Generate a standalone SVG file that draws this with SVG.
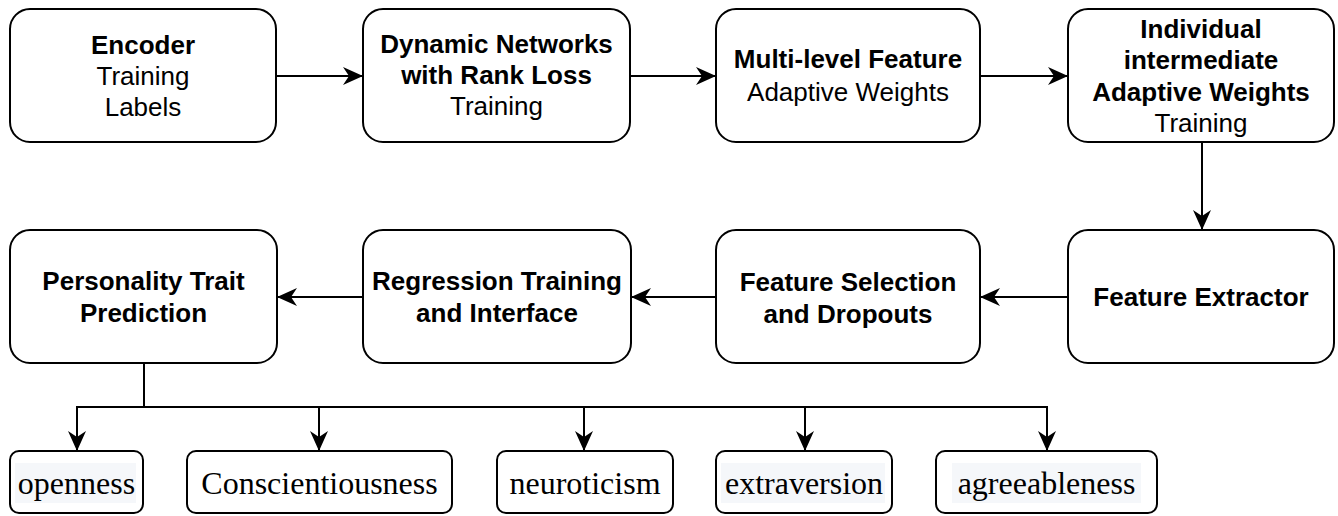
<svg xmlns="http://www.w3.org/2000/svg" width="1338" height="516" viewBox="0 0 1338 516">
  <defs>
    <style>
      .box { fill: #ffffff; stroke: #000000; stroke-width: 2; }
      .leaf { fill: #ffffff; stroke: #000000; stroke-width: 2; }
      .hl { fill: #f5f7fa; stroke: none; }
      .t { font-family: "Liberation Sans", Arial, sans-serif; font-size: 26px; fill: #000000; text-anchor: middle; }
      .b { font-weight: bold; }
      .s { font-family: "Liberation Serif", "Times New Roman", serif; font-size: 32px; fill: #000000; text-anchor: middle; }
      .edge { fill: none; stroke: #000000; stroke-width: 2; }
    </style>
    <marker id="arrow" markerUnits="userSpaceOnUse" markerWidth="22" markerHeight="22" refX="20" refY="10" orient="auto">
      <path d="M0,1 L20,10 L0,19 L6,10 Z" fill="#000000"/>
    </marker>
  </defs>

  <rect width="1338" height="516" fill="#ffffff"/>

  <!-- connectors -->
  <g id="connectors">
    <line class="edge" x1="276" y1="76" x2="363" y2="76" marker-end="url(#arrow)"/>
    <line class="edge" x1="630" y1="76" x2="716" y2="76" marker-end="url(#arrow)"/>
    <line class="edge" x1="980" y1="76" x2="1068" y2="76" marker-end="url(#arrow)"/>
    <line class="edge" x1="1202" y1="142" x2="1202" y2="230" marker-end="url(#arrow)"/>
    <line class="edge" x1="1068" y1="297" x2="980" y2="297" marker-end="url(#arrow)"/>
    <line class="edge" x1="716" y1="297" x2="631" y2="297" marker-end="url(#arrow)"/>
    <line class="edge" x1="363" y1="297" x2="277" y2="297" marker-end="url(#arrow)"/>
    <polyline class="edge" points="144,363 144,407"/>
    <line class="edge" x1="76" y1="407" x2="1048" y2="407"/>
    <line class="edge" x1="77" y1="406" x2="77" y2="451" marker-end="url(#arrow)"/>
    <line class="edge" x1="319" y1="407" x2="319" y2="451" marker-end="url(#arrow)"/>
    <line class="edge" x1="584" y1="407" x2="584" y2="451" marker-end="url(#arrow)"/>
    <line class="edge" x1="805" y1="407" x2="805" y2="451" marker-end="url(#arrow)"/>
    <line class="edge" x1="1047" y1="406" x2="1047" y2="451" marker-end="url(#arrow)"/>
  </g>

  <!-- top row -->
  <g id="encoder">
    <rect class="box" x="10" y="9" width="266" height="133" rx="20"/>
    <text class="t b" x="143" y="54">Encoder</text>
    <text class="t" x="143" y="85">Training</text>
    <text class="t" x="143" y="116">Labels</text>
  </g>
  <g id="dynamic-networks">
    <rect class="box" x="363" y="9" width="267" height="133" rx="20"/>
    <text class="t b" x="496.5" y="53">Dynamic Networks</text>
    <text class="t b" x="496.5" y="84">with Rank Loss</text>
    <text class="t" x="496.5" y="115">Training</text>
  </g>
  <g id="multi-level-feature">
    <rect class="box" x="716" y="9" width="264" height="133" rx="20"/>
    <text class="t b" x="848" y="68">Multi-level Feature</text>
    <text class="t" x="848" y="101">Adaptive Weights</text>
  </g>
  <g id="intermediate-weights">
    <rect class="box" x="1068" y="9" width="266" height="133" rx="20"/>
    <text class="t b" x="1201" y="38">Individual</text>
    <text class="t b" x="1201" y="69">intermediate</text>
    <text class="t b" x="1201" y="101">Adaptive Weights</text>
    <text class="t" x="1201" y="132">Training</text>
  </g>

  <!-- middle row -->
  <g id="personality-prediction">
    <rect class="box" x="10" y="230" width="267" height="133" rx="20"/>
    <text class="t b" x="143.5" y="290">Personality Trait</text>
    <text class="t b" x="143.5" y="322">Prediction</text>
  </g>
  <g id="regression">
    <rect class="box" x="363" y="230" width="268" height="133" rx="20"/>
    <text class="t b" x="497" y="290">Regression Training</text>
    <text class="t b" x="497" y="322">and Interface</text>
  </g>
  <g id="feature-selection">
    <rect class="box" x="716" y="230" width="264" height="133" rx="20"/>
    <text class="t b" x="848" y="291">Feature Selection</text>
    <text class="t b" x="848" y="323">and Dropouts</text>
  </g>
  <g id="feature-extractor">
    <rect class="box" x="1068" y="230" width="266" height="133" rx="20"/>
    <text class="t b" x="1201" y="306">Feature Extractor</text>
  </g>

  <!-- trait outputs -->
  <g id="openness">
    <rect class="leaf" x="10" y="451" width="133" height="62" rx="9"/>
    <rect class="hl" x="15" y="463" width="121" height="40"/>
    <text class="s" x="76.5" y="494">openness</text>
  </g>
  <g id="conscientiousness">
    <rect class="leaf" x="187" y="451" width="265" height="62" rx="9"/>
    <text class="s" x="319.5" y="494">Conscientiousness</text>
  </g>
  <g id="neuroticism">
    <rect class="leaf" x="497" y="451" width="176" height="62" rx="9"/>
    <text class="s" x="585" y="494">neuroticism</text>
  </g>
  <g id="extraversion">
    <rect class="leaf" x="716" y="451" width="176" height="62" rx="9"/>
    <rect class="hl" x="721" y="463" width="164" height="40"/>
    <text class="s" x="804" y="494">extraversion</text>
  </g>
  <g id="agreeableness">
    <rect class="leaf" x="936" y="451" width="221" height="62" rx="9"/>
    <rect class="hl" x="952" y="463" width="189" height="40"/>
    <text class="s" x="1046.5" y="494">agreeableness</text>
  </g>
</svg>
